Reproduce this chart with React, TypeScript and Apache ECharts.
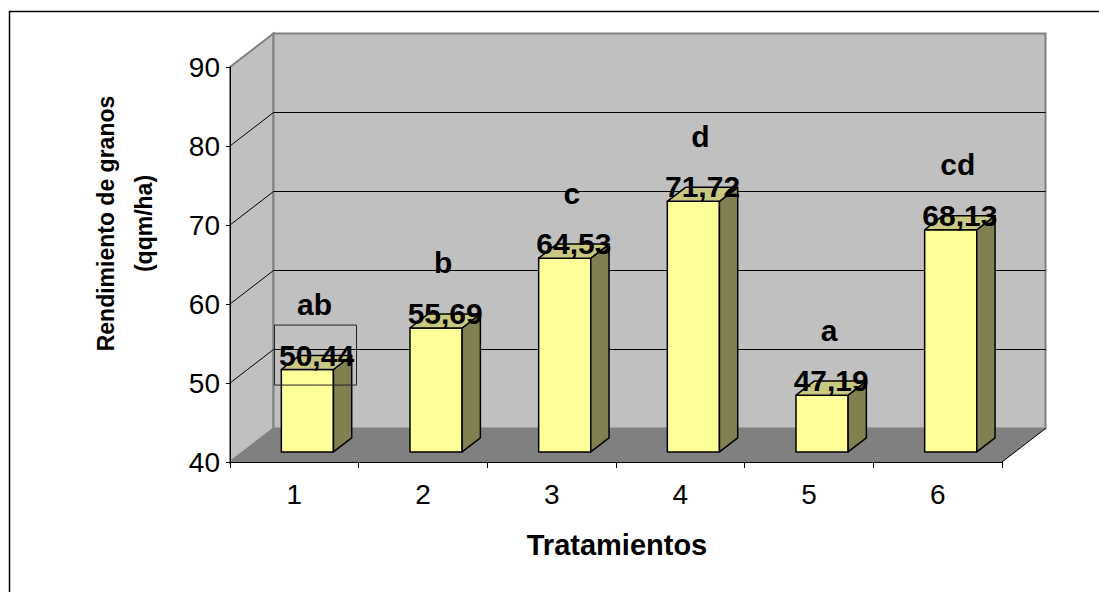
import { useEffect, useRef } from "react";
import * as echarts from "echarts";

// Grain yield per treatment, with the significance-group letters above each bar
const categories = ["1", "2", "3", "4", "5", "6"];
const yields = [50.44, 55.69, 64.53, 71.72, 47.19, 68.13];
const groupLetters = ["ab", "b", "c", "d", "a", "cd"];
const yTicks = [40, 50, 60, 70, 80, 90];
const boxedLabels = [0];

const Y_MIN = 40;
const Y_MAX = 90;
const Y_STEP = 10;

const FONT = "'Liberation Sans', Arial, Helvetica, sans-serif";

// pseudo-3D depth of the plot box (screen offset of the back plane)
const DX = 43.5;
const DY = -33.5;
// bar placement inside the depth, as fractions of it
const BAR_FRONT = 0.3;
const BAR_DEPTH = 0.42;
// bar width as a share of the category band
const BAR_WIDTH = 0.405;

const fmt = (v: number) => v.toFixed(2).replace(".", ",");

const renderWalls = (_params: any, api: any) => {
  const band = api.size([1, 0])[0];
  const x0 = api.coord([0, Y_MIN])[0] - band / 2;
  const x1 = api.coord([categories.length - 1, Y_MIN])[0] + band / 2;
  const yBottom = api.coord([0, Y_MIN])[1];
  const yTop = api.coord([0, Y_MAX])[1];
  const children: any[] = [];

  // left side wall
  children.push({
    type: "polygon",
    shape: { points: [[x0, yTop], [x0 + DX, yTop + DY], [x0 + DX, yBottom + DY], [x0, yBottom]] },
    style: { fill: "#C0C0C0", stroke: "#808080", lineWidth: 2 },
  });
  // back wall
  children.push({
    type: "rect",
    shape: { x: x0 + DX, y: yTop + DY, width: x1 - x0, height: yBottom - yTop },
    style: { fill: "#C0C0C0", stroke: "#808080", lineWidth: 2 },
  });
  // floor
  children.push({
    type: "polygon",
    shape: { points: [[x0, yBottom], [x1, yBottom], [x1 + DX, yBottom + DY], [x0 + DX, yBottom + DY]] },
    style: { fill: "#808080" },
  });
  children.push({
    type: "line",
    shape: { x1: x1, y1: yBottom, x2: x1 + DX, y2: yBottom + DY },
    style: { stroke: "#000", lineWidth: 1 },
  });
  // gridlines across the side wall and along the back wall
  yTicks
    .filter((t) => t > Y_MIN && t < Y_MAX)
    .forEach((t) => {
      const y = api.coord([0, t])[1];
      children.push({
        type: "polyline",
        shape: { points: [[x0, y], [x0 + DX, y + DY], [x1 + DX, y + DY]] },
        style: { stroke: "#000", lineWidth: 1, fill: null },
      });
    });
  return { type: "group", children };
};

const renderBar = (params: any, api: any) => {
  const i = api.value(0);
  const v = api.value(1);
  const band = api.size([1, 0])[0];
  const [cx, yBase] = api.coord([i, Y_MIN]);
  const yVal = api.coord([i, v])[1];
  const w = band * BAR_WIDTH;
  const fx = DX * BAR_FRONT;
  const fy = DY * BAR_FRONT;
  const sx = DX * BAR_DEPTH;
  const sy = DY * BAR_DEPTH;
  const xl = cx + fx - w / 2;
  const xr = cx + fx + w / 2;
  const top = yVal + fy;
  const bottom = yBase + fy;
  const edge = { stroke: "#000", lineWidth: 1.5, lineJoin: "round" };

  const labelX = cx + fx + sx / 2;
  const labelY = top - 14.4;

  const children: any[] = [
    {
      type: "polygon",
      shape: { points: [[xl, top], [xr, top], [xr, bottom], [xl, bottom]] },
      style: { fill: "#FFFF99", ...edge },
    },
    {
      type: "polygon",
      shape: { points: [[xr, top], [xr + sx, top + sy], [xr + sx, bottom + sy], [xr, bottom]] },
      style: { fill: "#808050", ...edge },
    },
    {
      type: "polygon",
      shape: { points: [[xl, top], [xr, top], [xr + sx, top + sy], [xl + sx, top + sy]] },
      style: { fill: "#C8C880", ...edge },
    },
    {
      type: "text",
      x: labelX,
      y: labelY,
      style: {
        text: fmt(v),
        fill: "#000",
        fontSize: 30,
        fontWeight: "bold",
        fontFamily: FONT,
        align: "center",
        verticalAlign: "middle",
      },
    },
    {
      type: "text",
      x: labelX - 2,
      y: top - 65,
      style: {
        text: groupLetters[params.dataIndex],
        fill: "#000",
        fontSize: 30,
        fontWeight: "bold",
        fontFamily: FONT,
        align: "center",
        verticalAlign: "middle",
      },
    },
  ];

  if (boxedLabels.includes(params.dataIndex)) {
    children.push({
      type: "rect",
      shape: { x: labelX - 42, y: labelY - 30, width: 82, height: 60 },
      style: { fill: null, stroke: "#222", lineWidth: 1 },
    });
  }

  return { type: "group", children };
};

export default function App() {
  const ref = useRef<HTMLDivElement>(null);

  useEffect(() => {
    if (!ref.current) return;
    const chart = echarts.init(ref.current, null, { renderer: "svg" });
    chart.setOption({
      animation: false,
      backgroundColor: "#fff",
      grid: { left: 230, right: 97, top: 67, bottom: 130 },
      xAxis: {
        type: "category",
        data: categories,
        boundaryGap: true,
        z: 10,
        axisLine: { show: true, lineStyle: { color: "#000", width: 1 } },
        axisTick: { show: true, length: 6, lineStyle: { color: "#000" } },
        axisLabel: { color: "#000", fontSize: 28, fontFamily: FONT, margin: 18 },
        splitLine: { show: false },
      },
      yAxis: {
        type: "value",
        min: Y_MIN,
        max: Y_MAX,
        interval: Y_STEP,
        z: 10,
        axisLine: { show: true, lineStyle: { color: "#000", width: 1 } },
        axisTick: { show: true, length: 4, lineStyle: { color: "#000" } },
        axisLabel: { color: "#000", fontSize: 28, fontFamily: FONT, margin: 10 },
        splitLine: { show: false },
      },
      series: [
        {
          type: "custom",
          name: "walls",
          silent: true,
          clip: false,
          renderItem: renderWalls,
          data: [[0, Y_MAX]],
          encode: { x: 0, y: 1 },
        },
        {
          type: "custom",
          name: "Rendimiento",
          clip: false,
          renderItem: renderBar,
          data: yields.map((v, i) => [i, v]),
          encode: { x: 0, y: 1 },
        },
      ],
      graphic: [
        {
          type: "rect",
          shape: { x: 9.5, y: 11.5, width: 1200, height: 700 },
          style: { fill: null, stroke: "#000", lineWidth: 1.5 },
          silent: true,
        },
        {
          type: "text",
          x: 125,
          y: 223.5,
          rotation: Math.PI / 2,
          style: {
            text: "Rendimiento de granos\n(qqm/ha)",
            fill: "#000",
            fontSize: 23,
            fontWeight: "bold",
            fontFamily: FONT,
            align: "center",
            verticalAlign: "middle",
            lineHeight: 38,
          },
        },
        {
          type: "text",
          x: 617,
          y: 544.5,
          style: {
            text: "Tratamientos",
            fill: "#000",
            fontSize: 29,
            fontWeight: "bold",
            fontFamily: FONT,
            align: "center",
            verticalAlign: "middle",
          },
        },
      ],
    });
    return () => chart.dispose();
  }, []);

  return (
    <div
      ref={ref}
      style={{ position: "fixed", left: 0, top: 0, width: 1099, height: 592, background: "#fff" }}
    />
  );
}
